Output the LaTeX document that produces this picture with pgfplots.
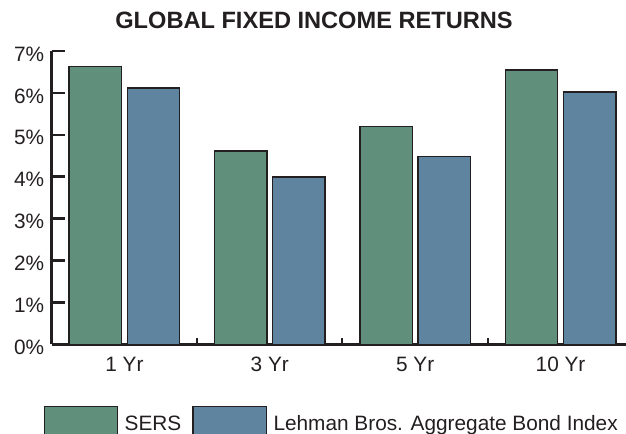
\documentclass[border=0pt]{standalone}
\usepackage{fontspec}
\setmainfont{Liberation Sans}
\usepackage{pgfplots}
\pgfplotsset{compat=1.18}
\definecolor{sersgreen}{RGB}{96,143,124}
\definecolor{lehblue}{RGB}{94,132,160}
\definecolor{ink}{RGB}{35,31,32}
\newcommand\lbl{\fontsize{20.8bp}{25bp}\selectfont}
\pgfplotsset{boxlegend/.style={legend image code/.code={\draw[##1] (0bp,-9.5bp) rectangle (73.3bp,18.8bp);}}}
\begin{document}
\begin{tikzpicture}
\path[use as bounding box] (0,0) rectangle (626bp,434bp);
\node[font=\fontsize{23.6bp}{28bp}\selectfont\bfseries, text=ink, anchor=base, inner sep=0pt] at (314bp,405.7bp) {GLOBAL FIXED INCOME RETURNS};
\begin{axis}[
  at={(51.7bp,89.7bp)}, anchor=south west,
  scale only axis, width=574.3bp, height=293.3bp,
  xmin=-0.5, xmax=3.45, ymin=0, ymax=7,
  axis x line=bottom, axis y line=left,
  axis line style={-, line width=2.5bp, draw=ink},
  ytick={0,1,2,3,4,5,6,7},
  yticklabels={0\%,1\%,2\%,3\%,4\%,5\%,6\%,7\%},
  xtick={0,1,2,3},
  xticklabels={1 Yr,3 Yr,5 Yr,10 Yr},
  minor xtick={0.5,1.5,2.5},
  tick align=inside,
  xtick align=inside, ytick align=inside,
  major tick length=13bp,
  minor tick length=6.5bp,
  major x tick style={draw=none},
  minor x tick style={line width=2bp, draw=ink, yshift=6.5bp},
  y tick style={line width=2.5bp, draw=ink},
  tick label style={font=\lbl, text=ink},
  yticklabel style={xshift=-4bp, yshift=-3bp},
  xticklabel style={yshift=4bp},
  ybar,
  legend style={at={(-0.0146,-0.2093)}, anchor=north west, draw=none, fill=none,
    inner sep=0pt, font=\lbl, text=ink,
    nodes={inner xsep=6.5bp, inner ysep=0pt, text height=15bp, text depth=4bp},
    /tikz/every odd column/.style={column sep=0pt},
    /tikz/every even column/.style={column sep=4.5bp}},
  legend columns=-1,
]
\addplot[ybar, bar width=0.36, bar shift=-0.2, fill=sersgreen, draw=ink, line width=1.4bp, boxlegend]
  coordinates {(0,6.63) (1,4.61) (2,5.20) (3,6.55)};
\addlegendentry{SERS}
\addplot[ybar, bar width=0.36, bar shift=0.2, fill=lehblue, draw=ink, line width=1.4bp, boxlegend]
  coordinates {(0,6.12) (1,3.99) (2,4.48) (3,6.02)};
\addlegendentry{Lehman Bros. Aggregate Bond Index}
\end{axis}
\end{tikzpicture}
\end{document}
